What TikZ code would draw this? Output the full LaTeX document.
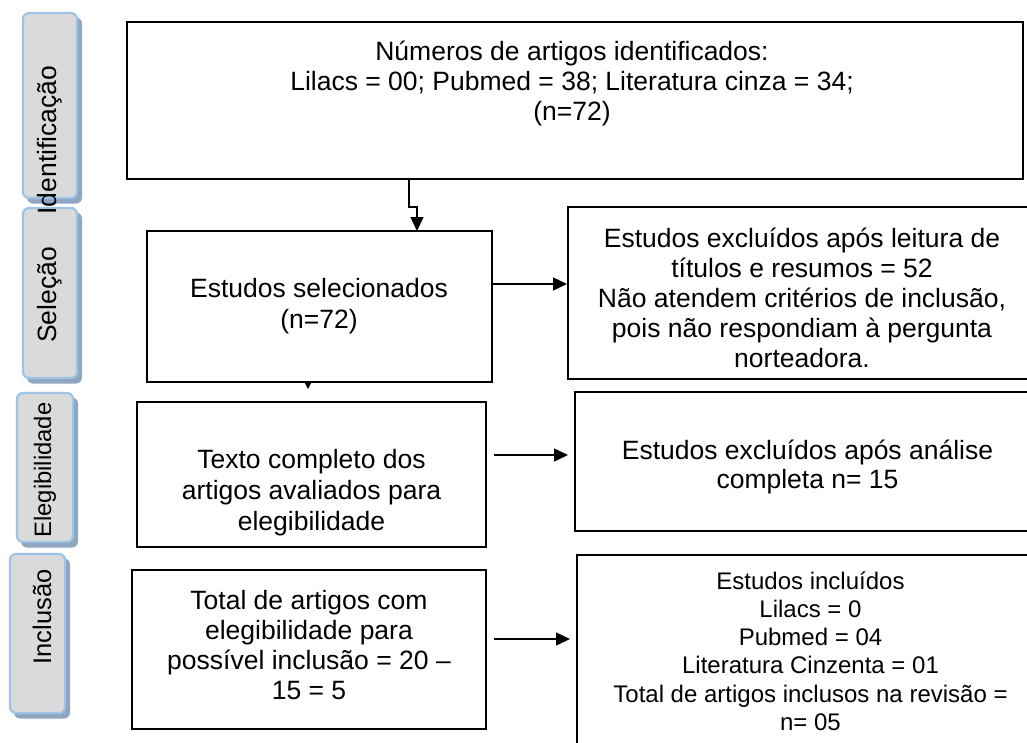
\documentclass[tikz,border=0pt]{standalone}
\usepackage{fontspec}
\setmainfont{Liberation Sans}
\usetikzlibrary{arrows.meta}
\definecolor{phfill}{HTML}{DADADA}
\definecolor{phdraw}{HTML}{9DC3E6}
\definecolor{phshadow}{HTML}{8EA6BF}
\tikzset{
  box/.style={draw, line width=1.8pt, inner sep=0pt, outer sep=0pt},
  conn/.style={line width=1.3pt, -{Triangle[length=14pt,width=13pt]}},
  phase/.style={rounded corners=6pt, fill=phfill, draw=phdraw, line width=2.2pt, inner sep=0pt, outer sep=0pt},
  phshad/.style={rounded corners=6pt, fill=phshadow, inner sep=0pt, outer sep=0pt},
  lbl/.style={rotate=90, inner sep=0pt},
  txt/.style={align=center, inner sep=0pt},
}
\begin{document}
\begin{tikzpicture}[x=1pt,y=-1pt]
\useasboundingbox (0,0) rectangle (1027,742);
\fill[white] (0,0) rectangle (1027,742);

% phase label shadows
\node[phshad, minimum width=55pt, minimum height=186pt] (sid) at (54.5,110.5) {};
\node[phshad, minimum width=55pt, minimum height=171pt] (ssel) at (54.5,298) {};
\node[phshad, minimum width=57pt, minimum height=150pt] (sel2) at (49.5,472.5) {};
\node[phshad, minimum width=56pt, minimum height=160pt] (sin) at (42,638.5) {};
% phase labels (boxes)
\node[phase, minimum width=54pt, minimum height=185pt] (pid) at (50,105.5) {};
\node[phase, minimum width=54pt, minimum height=170pt] (psel) at (50,293) {};
\node[phase, minimum width=56pt, minimum height=149pt] (pel) at (45,467.5) {};
\node[phase, minimum width=55pt, minimum height=159pt] (pin) at (37.5,633.5) {};

% boxes
\node[box, minimum width=896pt, minimum height=157pt] (top) at (575,100.5) {};
\node[box, minimum width=345pt, minimum height=151pt] (sel) at (319.5,306.5) {};
\node[box, minimum width=468pt, minimum height=172pt] (exa) at (802,293) {};
\node[box, minimum width=349pt, minimum height=145pt] (eli) at (311.5,474.5) {};
\node[box, minimum width=465pt, minimum height=139pt] (exb) at (807.5,461.5) {};
\node[box, minimum width=354pt, minimum height=159pt] (tot) at (309,649.5) {};
\node[box, minimum width=467pt, minimum height=195pt] (inc) at (810.5,652.5) {};

% texts
\node[txt, font=\fontsize{26.5}{30}\selectfont] (ttop) at (572,83)
  {Números de artigos identificados:\\Lilacs = 00; Pubmed = 38; Literatura cinza = 34;\\(n=72)};
\node[txt, font=\fontsize{26.5}{31}\selectfont] (tsel) at (319,306)
  {Estudos selecionados\\(n=72)};
\node[txt, font=\fontsize{26.5}{30}\selectfont] (texa) at (802,298)
  {Estudos excluídos após leitura de\\títulos e resumos = 52\\Não atendem critérios de inclusão,\\pois não respondiam à pergunta\\norteadora.};
\node[txt, font=\fontsize{26.5}{31}\selectfont] (teli) at (311.5,492.5)
  {Texto completo dos\\artigos avaliados para\\elegibilidade};
\node[txt, font=\fontsize{26.5}{29}\selectfont] (texb) at (807.5,467)
  {Estudos excluídos após análise\\completa n= 15};
\node[txt, font=\fontsize{26.5}{30}\selectfont] (ttot) at (309,645)
  {Total de artigos com\\elegibilidade para\\possível inclusão = 20 –\\15 = 5};
\node[txt, font=\fontsize{24}{28.2}\selectfont] (tinc) at (810.5,651)
  {Estudos incluídos\\Lilacs = 0\\Pubmed = 04\\Literatura Cinzenta = 01\\Total de artigos inclusos na revisão =\\n= 05};

% connectors
\coordinate (k1) at (409,207);
\coordinate (k2) at (417,207);
\draw[conn] (top.south -| k1) -- (k1) -- (k2) -- (sel.north -| k2);
\coordinate (a1) at (0,284);
\draw[conn] (sel.east |- a1) -- ([xshift=-1pt]exa.west |- a1);
\coordinate (t1) at (308,389);
\draw[line width=1pt, -{Triangle[length=6pt,width=6pt]}] (sel.south -| t1) -- (t1);
\coordinate (a2) at (0,455);
\draw[conn] ([xshift=8pt]eli.east |- a2) -- ([xshift=-7pt]exb.west |- a2);
\coordinate (a3) at (0,639);
\draw[conn] ([xshift=8pt]tot.east |- a3) -- ([xshift=-7pt]inc.west |- a3);

% phase label texts
\node[lbl, font=\fontsize{26.5}{30}\selectfont] (lid) at (50,140) {Identificação};
\node[lbl, font=\fontsize{26.5}{30}\selectfont] (lsel) at (50,295) {Seleção};
\node[lbl, font=\fontsize{23.8}{28}\selectfont] (lel) at (45,470) {Elegibilidade};
\node[lbl, font=\fontsize{25.5}{30}\selectfont] (lin) at (42,617) {Inclusão};
\end{tikzpicture}
\end{document}
